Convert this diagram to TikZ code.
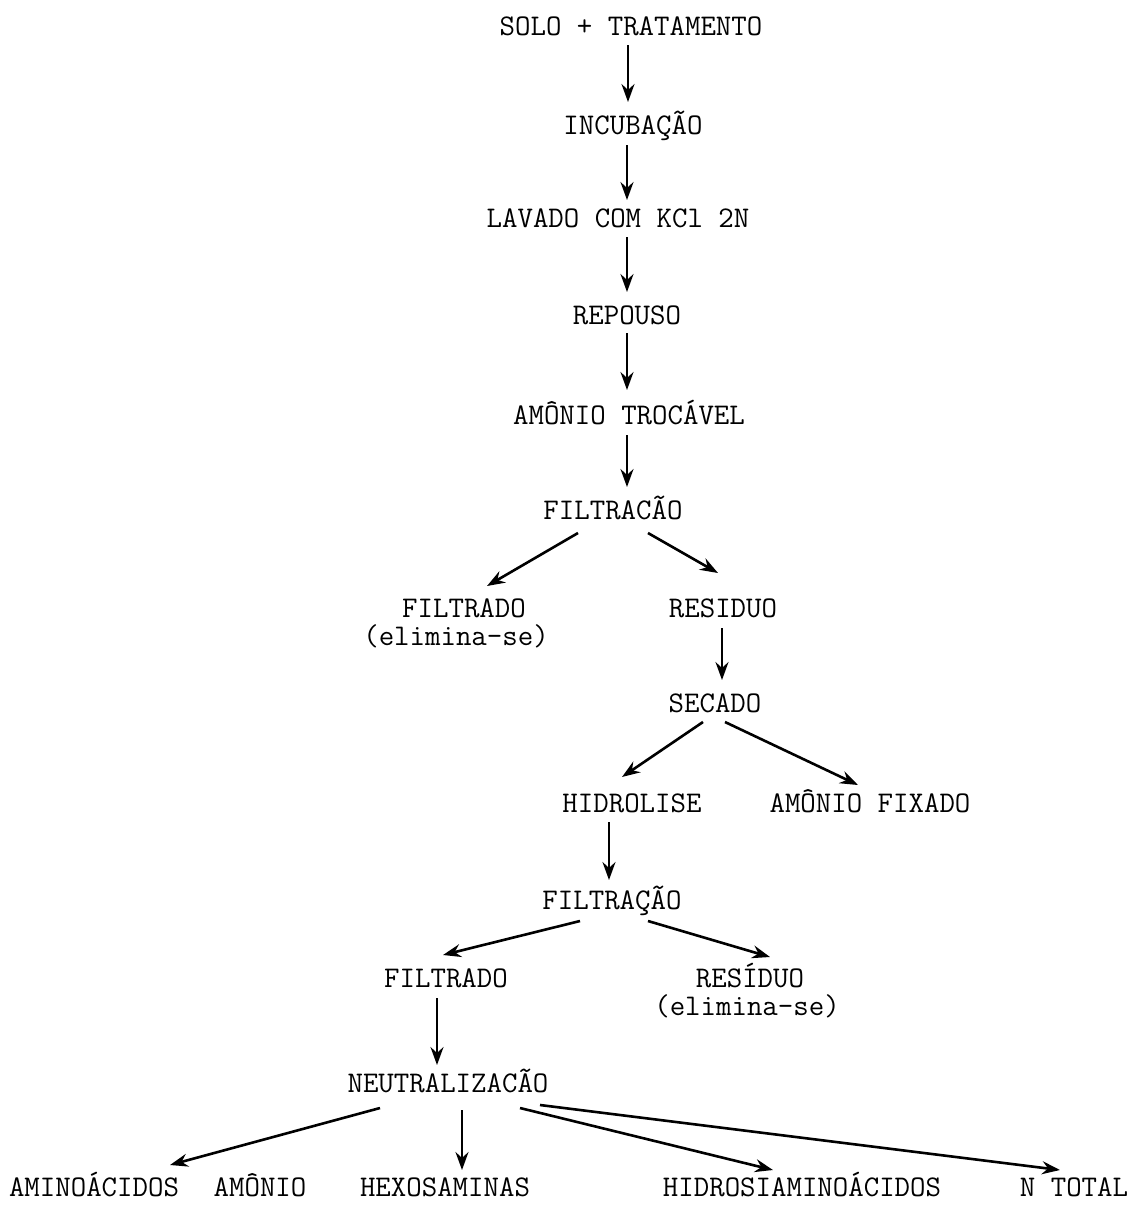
\documentclass[tikz,border=0pt]{standalone}
\usepackage{fontspec}
\usetikzlibrary{arrows.meta,calc}
\begin{document}
\begin{tikzpicture}[x=1pt,y=-1pt,
  lbl/.style={inner sep=0pt,text height=18pt,text depth=0pt,
    font=\ttfamily\fontsize{30}{34}\selectfont},
  arr/.style={line width=2.6pt,-{Stealth[length=18pt,width=13pt,inset=6pt]}}]
\useasboundingbox[fill=white] (0,0) rectangle (1135,1205);
\node[lbl] (solo) at (631,26) {SOLO + TRATAMENTO};
\node[lbl] (incub) at (633,125) {INCUBAÇÃO};
\node[lbl] (lavado) at (618,218) {LAVADO COM KCl 2N};
\node[lbl] (repouso) at (627,315) {REPOUSO};
\node[lbl] (amonio) at (629,415) {AMÔNIO TROCÁVEL};
\node[lbl] (filtA) at (613,510) {FILTRACÃO};
\node[lbl] (filtradoA) at (464,608) {FILTRADO};
\node[lbl] (elimA) at (456,636) {(elimina-se)};
\node[lbl] (residuoA) at (723,608) {RESIDUO};
\node[lbl] (secado) at (715,703) {SECADO};
\node[lbl] (hidro) at (632,803) {HIDROLISE};
\node[lbl] (fixado) at (870,803) {AMÔNIO FIXADO};
\node[lbl] (filtB) at (612,900) {FILTRAÇÃO};
\node[lbl] (filtradoB) at (446,978) {FILTRADO};
\node[lbl] (residuoB) at (750,978) {RESÍDUO};
\node[lbl] (elimB) at (747,1006) {(elimina-se)};
\node[lbl] (neutral) at (448,1083) {NEUTRALIZACÃO};
\node[lbl] (amino) at (94,1187) {AMINOÁCIDOS};
\node[lbl] (amonioB) at (260,1187) {AMÔNIO};
\node[lbl] (hexo) at (445,1187) {HEXOSAMINAS};
\node[lbl] (hidros) at (802,1187) {HIDROSIAMINOÁCIDOS};
\node[lbl] (ntotal) at (1074,1187) {N TOTAL};

\draw[arr] ($(solo)+(-3,19)$) -- ($(incub)+(-5,-23)$);
\draw[arr] ($(incub)+(-6,20)$) -- ($(lavado)+(9,-18)$);
\draw[arr] ($(lavado)+(9,19)$) -- ($(repouso)+(0,-23)$);
\draw[arr] ($(repouso)+(0,18)$) -- ($(amonio)+(-2,-25)$);
\draw[arr] ($(amonio)+(-2,20)$) -- ($(filtA)+(14,-23)$);
\draw[arr] ($(filtA)+(-35,23)$) -- ($(filtradoA)+(23,-22)$);
\draw[arr] ($(filtA)+(35,23)$) -- ($(residuoA)+(-5,-35)$);
\draw[arr] ($(residuoA)+(-1,20)$) -- ($(secado)+(7,-23)$);
\draw[arr] ($(secado)+(-12,19)$) -- ($(hidro)+(-10,-26)$);
\draw[arr] ($(secado)+(10,19)$) -- ($(fixado)+(-12,-18)$);
\draw[arr] ($(hidro)+(-23,19)$) -- ($(filtB)+(-3,-20)$);
\draw[arr] ($(filtB)+(-32,21)$) -- ($(filtradoB)+(-3,-23)$);
\draw[arr] ($(filtB)+(36,21)$) -- ($(residuoB)+(20,-21)$);
\draw[arr] ($(filtradoB)+(-9,20)$) -- ($(neutral)+(-11,-18)$);
\draw[arr] ($(neutral)+(-68,25)$) -- ($(amino)+(76,-22)$);
\draw[arr] ($(neutral)+(14,27)$) -- ($(hexo)+(17,-17)$);
\draw[arr] ($(neutral)+(72,25)$) -- ($(hidros)+(-29,-17)$);
\draw[arr] ($(neutral)+(92,22)$) -- ($(ntotal)+(-14,-17)$);
\end{tikzpicture}
\end{document}
